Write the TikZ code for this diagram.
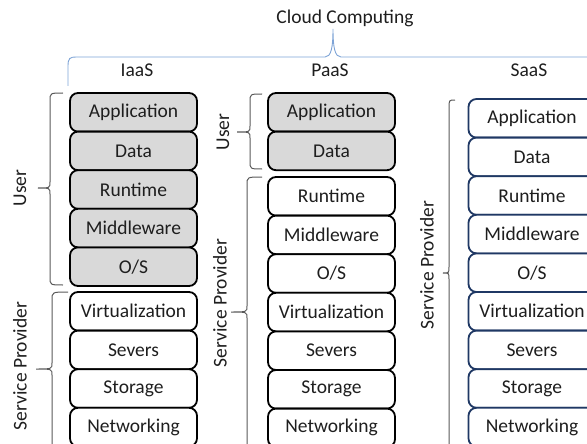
\documentclass[tikz,border=0pt]{standalone}
\usepackage{fontspec}
\setmainfont{Carlito}
\definecolor{boxgray}{HTML}{D9D9D9}
\definecolor{saasblue}{HTML}{1F3864}
\definecolor{bracegray}{HTML}{595959}
\definecolor{topblue}{HTML}{7DA3D6}
\definecolor{textdark}{HTML}{1E1E1E}
% left brace: x end, x vertical, x tip, y top, y tip, y bottom
\newcommand{\sidebrace}[6]{%
  \draw[bracket] (#1,#4) .. controls (#2,#4) .. (#2,#4+8) -- (#2,#5-6)
    .. controls (#2,#5) .. (#3,#5) .. controls (#2,#5) .. (#2,#5+6)
    -- (#2,#6-8) .. controls (#2,#6) .. (#1,#6);}
\begin{document}
\begin{tikzpicture}[
    x=1pt, y=-1pt,
    layer/.style={rectangle, draw, line width=1.8pt, rounded corners=8pt, minimum width=127pt, minimum height=38.6pt, inner sep=0pt, text=textdark, font=\fontsize{19.5}{22}\selectfont},
    user/.style={layer, fill=boxgray},
    provider/.style={layer, fill=white},
    saaslayer/.style={layer, draw=saasblue, fill=white},
    head/.style={text=textdark, inner sep=0pt, font=\fontsize{19.5}{22}\selectfont},
    side/.style={head, rotate=90},
    bracket/.style={draw=bracegray, line width=1pt}
]
\useasboundingbox (0,0) rectangle (587,444);
\clip (0,0) rectangle (587,444);

% Headings
\node[head] (cloud) at (345,18) {Cloud Computing};
\node[head] (iaas) at (137,70) {IaaS};
\node[head] (paas) at (330,70) {PaaS};
\node[head] (saas) at (529,70) {SaaS};

% Top brace
\coordinate (cloudtip) at (333,29);
\draw[topblue, line width=0.9pt] (68,86) -- (68,66) .. controls (68,58) and (70,57) .. (76,57)
    -- (325,57) .. controls (331,57) and (333,48) .. (cloudtip)
    .. controls (333,48) and (335,57) .. (341,57) -- (600,57);

% IaaS stack
\node[user] (i-app) at (133.5,112.3) {Application};
\node[user] (i-data) at (133.5,150.9) {Data};
\node[user] (i-run) at (133.5,189.5) {Runtime};
\node[user] (i-mid) at (133.5,228.1) {Middleware};
\node[user] (i-os) at (133.5,266.7) {O/S};
\node[provider] (i-virt) at (133.5,311.3) {Virtualization};
\node[provider] (i-srv) at (133.5,349.9) {Severs};
\node[provider] (i-sto) at (133.5,388.5) {Storage};
\node[provider] (i-net) at (133.5,427.1) {Networking};

% PaaS stack
\node[user] (p-app) at (331.5,112.3) {Application};
\node[user] (p-data) at (331.5,150.9) {Data};
\node[provider] (p-run) at (331.5,196.3) {Runtime};
\node[provider] (p-mid) at (331.5,234.9) {Middleware};
\node[provider] (p-os) at (331.5,273.5) {O/S};
\node[provider] (p-virt) at (331.5,312.1) {Virtualization};
\node[provider] (p-srv) at (331.5,350.7) {Severs};
\node[provider] (p-sto) at (331.5,389.3) {Storage};
\node[provider] (p-net) at (331.5,427.9) {Networking};

% SaaS stack
\node[saaslayer] (s-app) at (532,118.3) {Application};
\node[saaslayer] (s-data) at (532,156.9) {Data};
\node[saaslayer] (s-run) at (532,195.5) {Runtime};
\node[saaslayer] (s-mid) at (532,234.1) {Middleware};
\node[saaslayer] (s-os) at (532,272.7) {O/S};
\node[saaslayer] (s-virt) at (532,311.3) {Virtualization};
\node[saaslayer] (s-srv) at (532,349.9) {Severs};
\node[saaslayer] (s-sto) at (532,388.5) {Storage};
\node[saaslayer] (s-net) at (532,427.1) {Networking};

% Side labels
\node[side] (i-user) at (20,188) {User};
\node[side] (i-prov) at (20,366) {Service Provider};
\node[side] (p-user) at (223,132) {User};
\node[side] (p-prov) at (220,303) {Service Provider};
\node[side] (s-prov) at (427,265) {Service Provider};

% Side braces
\sidebrace{63}{50}{38}{93}{188}{285}
\sidebrace{68}{52}{36}{292}{369}{480}
\sidebrace{262}{250}{237}{94}{132}{169}
\sidebrace{262}{247}{231}{177}{312}{480}
\sidebrace{455}{449}{443}{100}{273}{480}
\end{tikzpicture}
\end{document}
